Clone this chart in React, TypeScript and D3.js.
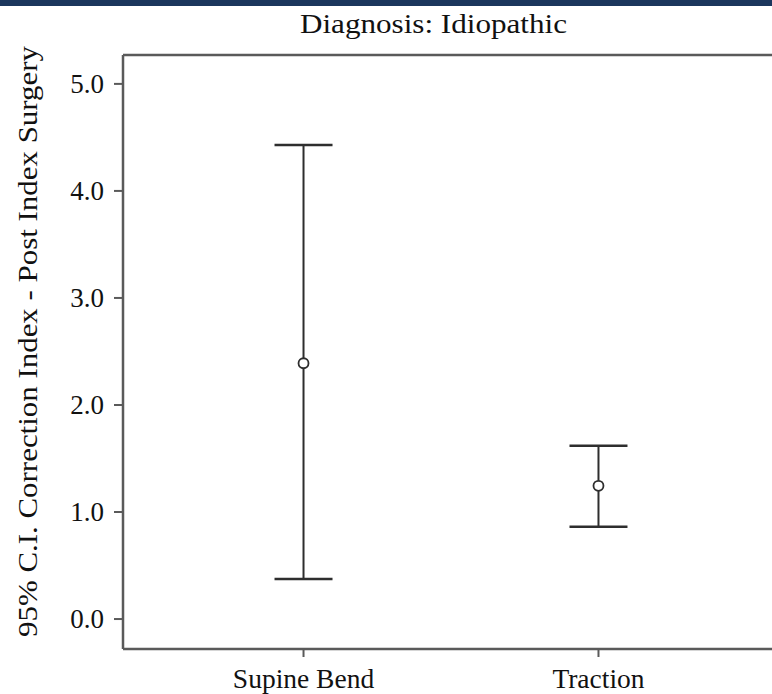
import * as d3 from "d3";
import React, { useRef, useEffect } from "react";

const categories = ["Supine Bend", "Traction"];
const means = [2.39, 1.245];
const lowerCI = [0.375, 0.862];
const upperCI = [4.43, 1.62];
const yTicks = [0, 1, 2, 3, 4, 5];

const W = 772;
const H = 694;
const FONT = "'Liberation Serif', 'Times New Roman', Times, serif";

const draw = (node: SVGSVGElement) => {
  const svg = d3.select(node);
  svg.selectAll("*").remove();

  const left = 123;
  const top = 55;
  const bottom = 649;

  const y = d3.scaleLinear().domain([-0.28, 5.27]).range([bottom, top]);
  const x = d3.scalePoint().domain(categories).range([left, 779]).padding(0.612);

  // dark band at the very top
  svg.append("rect").attr("x", 0).attr("y", 0).attr("width", W).attr("height", 6).attr("fill", "#1b365d");

  svg
    .append("text")
    .attr("x", 433.5)
    .attr("y", 33)
    .attr("text-anchor", "middle")
    .style("font-family", FONT)
    .style("font-size", "28px")
    .attr("textLength", 267)
    .attr("lengthAdjust", "spacingAndGlyphs")
    .attr("fill", "#111")
    .text("Diagnosis: Idiopathic");

  const frame = "#5a5a5a";
  // frame lines
  svg.append("line").attr("x1", left).attr("x2", W).attr("y1", top).attr("y2", top)
    .attr("stroke", frame).attr("stroke-width", 2.5);
  svg.append("line").attr("x1", left).attr("x2", W).attr("y1", bottom).attr("y2", bottom)
    .attr("stroke", frame).attr("stroke-width", 2.5);
  svg.append("line").attr("x1", left).attr("x2", left).attr("y1", top).attr("y2", bottom)
    .attr("stroke", frame).attr("stroke-width", 2.5);

  // y ticks
  const gy = svg.append("g");
  yTicks.forEach((t) => {
    gy.append("line").attr("x1", left - 9).attr("x2", left).attr("y1", y(t)).attr("y2", y(t))
      .attr("stroke", frame).attr("stroke-width", 2);
    gy.append("text")
      .attr("x", 104)
      .attr("y", y(t))
      .attr("dy", "0.35em")
      .attr("text-anchor", "end")
      .style("font-family", FONT)
      .style("font-size", "27px")
      .attr("fill", "#111")
      .text(d3.format(".1f")(t));
  });

  // x ticks and labels
  categories.forEach((c) => {
    const cx = x(c) as number;
    svg.append("line").attr("x1", cx).attr("x2", cx).attr("y1", bottom).attr("y2", bottom + 8)
      .attr("stroke", frame).attr("stroke-width", 2);
    svg.append("text")
      .attr("x", cx)
      .attr("y", 688)
      .attr("text-anchor", "middle")
      .style("font-family", FONT)
      .style("font-size", "27.5px")
      .attr("fill", "#111")
      .text(c);
  });

  // y axis title
  svg
    .append("text")
    .attr("transform", "translate(37," + (30 + 653) / 2 + ") rotate(-90)")
    .attr("text-anchor", "middle")
    .style("font-family", FONT)
    .style("font-size", "27px")
    .attr("textLength", 591)
    .attr("lengthAdjust", "spacingAndGlyphs")
    .attr("fill", "#111")
    .text("95% C.I. Correction Index - Post Index Surgery");

  // error bars
  const capHalf = 29;
  const ink = "#2e2e2e";
  categories.forEach((c, i) => {
    const cx = x(c) as number;
    const g = svg.append("g");
    g.append("line").attr("x1", cx).attr("x2", cx).attr("y1", y(upperCI[i])).attr("y2", y(lowerCI[i]))
      .attr("stroke", ink).attr("stroke-width", 2);
    g.append("line").attr("x1", cx - capHalf).attr("x2", cx + capHalf).attr("y1", y(upperCI[i])).attr("y2", y(upperCI[i]))
      .attr("stroke", ink).attr("stroke-width", 2.5);
    g.append("line").attr("x1", cx - capHalf).attr("x2", cx + capHalf).attr("y1", y(lowerCI[i])).attr("y2", y(lowerCI[i]))
      .attr("stroke", ink).attr("stroke-width", 2.5);
    g.append("circle").attr("cx", cx).attr("cy", y(means[i])).attr("r", 5)
      .attr("fill", "#fff").attr("stroke", ink).attr("stroke-width", 1.8);
  });
};

const App = () => {
  const ref = useRef<SVGSVGElement>(null);
  useEffect(() => {
    if (ref.current) draw(ref.current);
  }, []);
  return (
    <div style={{ position: "fixed", left: 0, top: 0, width: W, height: H, background: "#fff" }}>
      <svg ref={ref} width={W} height={H} style={{ display: "block" }} />
    </div>
  );
};

export default App;
